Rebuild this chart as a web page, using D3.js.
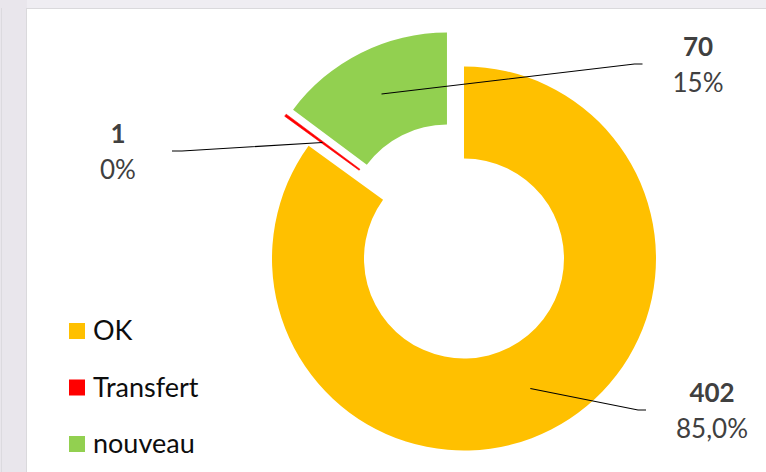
<!DOCTYPE html>
<html>
<head>
<meta charset="utf-8">
<script src="https://cdn.jsdelivr.net/npm/d3@7"></script>
<style>
  body { margin: 0; background: #efedf2; }
  svg { display: block; }
</style>
</head>
<body>
<div id="chart"></div>
<script>
const categories = ["OK", "Transfert", "nouveau"];
const values = [402, 1, 70];
const pctDecimals = [1, 0, 0];
const colors = ["#ffc000", "#ff0000", "#92d050"];

const W = 766, H = 472;
const cx = 464, cy = 258.5, rOuter = 192, rInner = 100;

// slice explosion (px) and optional direction override (degrees, clockwise from top)
const explode = { Transfert: { dist: 38, angle: 321 }, nouveau: { dist: 38 } };
// label anchors: center x, baseline of the value line, side of the leader
const labelPos = {
  OK: { x: 712, y: 402, side: "right" },
  Transfert: { x: 118, y: 143, side: "left" },
  nouveau: { x: 698, y: 56, side: "right" }
};

const fr = d3.formatLocale({ decimal: ",", thousands: " ", grouping: [3], currency: ["", "€"] });
const total = d3.sum(values);

const svg = d3.select("#chart").append("svg").attr("width", W).attr("height", H);

// frame
svg.append("rect").attr("x", 0).attr("y", 0).attr("width", 27).attr("height", H).attr("fill", "#e9e6ec");
svg.append("line").attr("x1", 1.5).attr("x2", 1.5).attr("y1", 8).attr("y2", H).attr("stroke", "#dcdadf");
svg.append("rect").attr("x", 26.5).attr("y", 8.5).attr("width", 800).attr("height", 600)
  .attr("fill", "#fff").attr("stroke", "#dad9dc");

const data = categories.map((c, i) => ({ cat: c, value: values[i], color: colors[i], dec: pctDecimals[i] }));
const pie = d3.pie().sort(null).value(d => d.value);
const arc = d3.arc().innerRadius(rInner).outerRadius(rOuter);
const arcs = pie(data);

function offset(a) {
  const e = explode[a.data.cat];
  if (!e) return [0, 0];
  const ang = e.angle != null ? e.angle * Math.PI / 180 : (a.startAngle + a.endAngle) / 2;
  return [e.dist * Math.sin(ang), -e.dist * Math.cos(ang)];
}

const g = svg.append("g").attr("transform", `translate(${cx},${cy})`);

g.selectAll("path.slice").data(arcs).join("path")
  .attr("class", "slice")
  .attr("transform", d => `translate(${offset(d)})`)
  .attr("d", arc)
  .attr("fill", d => d.data.color)
  .attr("stroke", d => d.data.value / total < 0.01 ? d.data.color : "none")
  .attr("stroke-width", 0.6);

const font = "Lato, 'Open Sans', sans-serif";

// data labels
const labels = svg.append("g");
arcs.forEach(a => {
  const p = labelPos[a.data.cat];
  const t = labels.append("text").attr("x", p.x).attr("text-anchor", "middle")
    .attr("font-family", font).attr("font-size", 26).attr("fill", "#404040");
  t.append("tspan").attr("x", p.x).attr("y", p.y).attr("font-weight", "bold").text(a.data.value);
  t.append("tspan").attr("x", p.x).attr("y", p.y + 36)
    .text(fr.format(`.${a.data.dec}%`)(a.data.value / total));

  const bb = t.node().getBBox();
  const [ox, oy] = offset(a);
  const [mx, my] = arc.centroid(a);
  const sx = cx + ox + mx, sy = cy + oy + my;
  const ey = p.y + 8;
  const ex = p.side === "right" ? bb.x - 30 : bb.x + bb.width + 36;
  const kx = p.side === "right" ? ex - 8 : ex + 10;
  labels.append("path")
    .attr("d", d3.line()([[sx, sy], [kx, ey], [ex, ey]]))
    .attr("fill", "none").attr("stroke", "#000").attr("stroke-width", 1.1);
});

// legend
const legend = svg.append("g").attr("transform", "translate(69,340)");
const items = legend.selectAll("g").data(data).join("g")
  .attr("transform", (d, i) => `translate(0,${i * 56.5})`);
items.append("rect").attr("x", 0).attr("y", -17).attr("width", 16).attr("height", 16).attr("fill", d => d.color);
items.append("text").attr("x", 24).attr("y", 0)
  .attr("font-family", font).attr("font-size", 27).attr("fill", "#0d0d0d")
  .text(d => d.cat);
</script>
</body>
</html>
